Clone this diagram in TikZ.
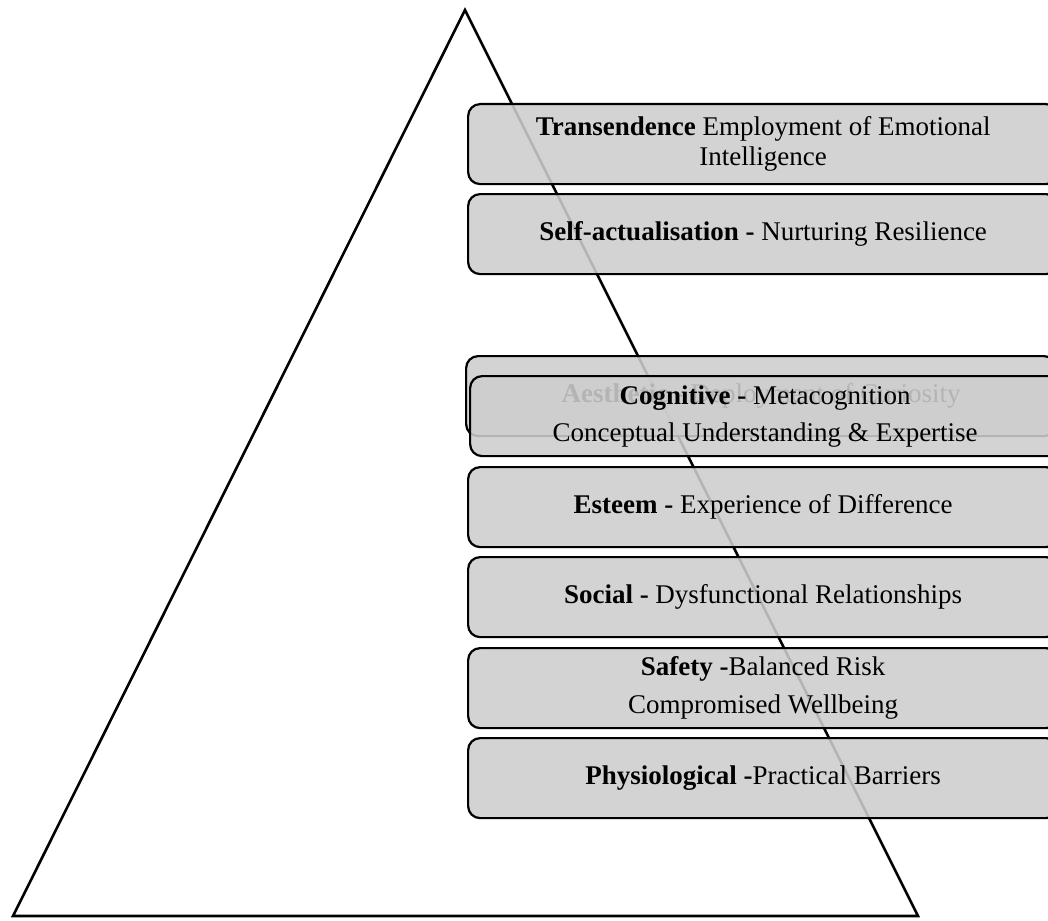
\documentclass[tikz,border=0pt]{standalone}
\usepackage{fontspec}
\setmainfont{Liberation Serif}
\begin{document}
\begin{tikzpicture}[x=1pt,y=-1pt,
  level/.style={draw=black, line width=2.2pt, rounded corners=12pt, fill=boxgray, fill opacity=0.88, text opacity=1, minimum width=590pt, anchor=north west, inner sep=0pt, align=center, font=\fontsize{27}{30}\selectfont},
  tri/.style={draw=black, line width=2.6pt, line join=miter}]
\definecolor{boxgray}{RGB}{205,205,205}
\useasboundingbox (0,0) rectangle (1048,920);
\coordinate (apex) at (465,10);
\coordinate (bl) at (13,916);
\coordinate (br) at (918,916);
\draw[tri] (apex) -- (br) -- (bl) -- cycle;
\node[level, minimum height=80pt] (trans) at (467,103) {\textbf{Transendence} Employment of Emotional\\Intelligence};
\node[level, minimum height=80pt] (self) at (467,193) {\textbf{Self-actualisation -} Nurturing Resilience};
\node[level, minimum height=80pt] (aes) at (465,355) {\textbf{Aesthetic -} Deployment of Curiosity};
\node[level, minimum height=80pt] (cog) at (469,375) {\textbf{Cognitive -} Metacognition\\[7pt]Conceptual Understanding \& Expertise};
\node[level, minimum height=80pt] (est) at (467,466) {\textbf{Esteem -} Experience of Difference};
\node[level, minimum height=80pt] (soc) at (467,556) {\textbf{Social -} Dysfunctional Relationships};
\node[level, minimum height=80pt] (saf) at (467,647) {\textbf{Safety -}Balanced Risk\\[8pt]Compromised Wellbeing};
\node[level, minimum height=80pt] (phy) at (467,737) {\textbf{Physiological -}Practical Barriers};
\end{tikzpicture}
\end{document}
